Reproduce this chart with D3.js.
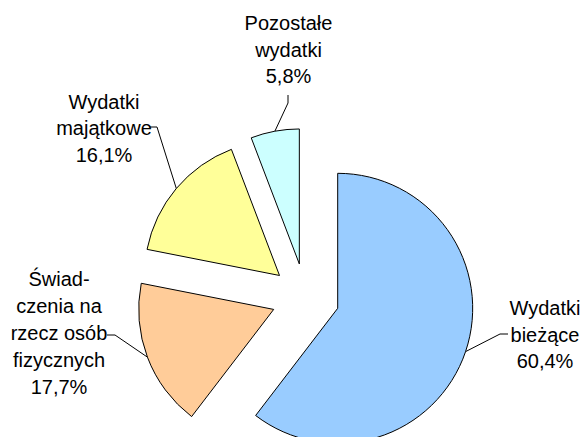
<!DOCTYPE html>
<html>
<head>
<meta charset="utf-8">
<script src="https://cdn.jsdelivr.net/npm/d3@7"></script>
<style>
  body { margin: 0; background: #fff; }
  text { font-family: Arial, "Liberation Sans", sans-serif; font-size: 20px; fill: #000; }
</style>
</head>
<body>
<script>
var categories = ["Wydatki bieżące", "Świadczenia na rzecz osób fizycznych", "Wydatki majątkowe", "Pozostałe wydatki"];
var values = [60.4, 17.7, 16.1, 5.8];
var colors = ["#99CCFF", "#FFCC99", "#FFFF99", "#CCFFFF"];
var labelLines = [
  ["Wydatki", "bieżące", "60,4%"],
  ["Świad-", "czenia na", "rzecz osób", "fizycznych", "17,7%"],
  ["Wydatki", "majątkowe", "16,1%"],
  ["Pozostałe", "wydatki", "5,8%"]
];

var w = 586, h = 437;
var cx = 305.5, cy = 297.4, r = 135, explode = 34;

// label layout: centre x, first baseline, line step, leader start (text side)
var labelPos = [
  { x: 545, y: 315, step: 26.7, lead: [[508, 334], [500, 334]] },
  { x: 59, y: 285.5, step: 27.1, lead: [[107, 335], [115, 335]] },
  { x: 104, y: 108.5, step: 26.7, lead: [[150, 127], [157, 127]] },
  { x: 288.5, y: 30, step: 26.7, lead: [[288, 95], [288, 103]] }
];

var svg = d3.select("body")
            .append("svg")
            .attr("width", w)
            .attr("height", h);

var pie = d3.pie().sort(null).value(function(d) { return d; });
var arcs = pie(values);
var arc = d3.arc().innerRadius(0).outerRadius(r);

function offset(d, dist) {
  var a = (d.startAngle + d.endAngle) / 2;
  return [Math.sin(a) * dist, -Math.cos(a) * dist];
}

var g = svg.append("g").attr("transform", "translate(" + cx + "," + cy + ")");

g.selectAll("path")
  .data(arcs)
  .enter()
  .append("path")
  .attr("d", arc)
  .attr("transform", function(d) {
    var o = offset(d, explode);
    return "translate(" + o[0] + "," + o[1] + ")";
  })
  .attr("fill", function(d, i) { return colors[i]; })
  .attr("stroke", "#000")
  .attr("stroke-width", 1);

// leader lines
var line = d3.line();
svg.selectAll("path.leader")
  .data(arcs)
  .enter()
  .append("path")
  .attr("class", "leader")
  .attr("d", function(d, i) {
    var o = offset(d, explode);
    var m = offset(d, r);
    var pts = labelPos[i].lead.concat([[cx + o[0] + m[0], cy + o[1] + m[1]]]);
    return line(pts);
  })
  .attr("fill", "none")
  .attr("stroke", "#000")
  .attr("stroke-width", 1);

// labels
var labels = svg.selectAll("text.label")
  .data(labelLines)
  .enter()
  .append("text")
  .attr("class", "label")
  .attr("text-anchor", "middle");

labels.each(function(lines, i) {
  var p = labelPos[i];
  d3.select(this).selectAll("tspan")
    .data(lines)
    .enter()
    .append("tspan")
    .attr("x", p.x)
    .attr("y", function(d, j) { return p.y + j * p.step; })
    .text(function(d) { return d; });
});
</script>
</body>
</html>
